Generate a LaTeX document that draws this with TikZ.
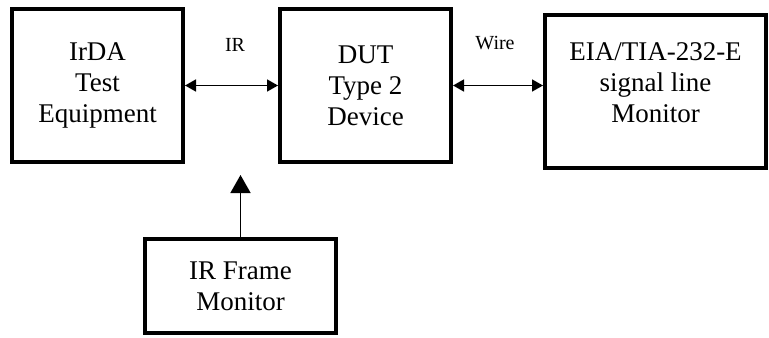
\documentclass[tikz,border=0pt]{standalone}
\usepackage{fontspec}
\setmainfont{Liberation Serif}
\usetikzlibrary{arrows.meta}
\begin{document}
\begin{tikzpicture}[x=0.5pt,y=-0.5pt,
  box/.style={draw,line width=2pt,align=center,font=\fontsize{13.5}{15.5}\selectfont},
  lbl/.style={font=\fontsize{10}{12}\selectfont},
  link/.style={line width=0.8pt,{Triangle[length=5.5pt,width=6pt]}-{Triangle[length=5.5pt,width=6pt]}},
  feed/.style={line width=0.8pt,-{Triangle[length=9pt,width=10pt]}}]
\useasboundingbox (0,0) rectangle (769,337);
\node[box,minimum width=85.5pt,minimum height=76.5pt] (equip) at (97.5,85.5) {IrDA\\Test\\Equipment};
\node[box,minimum width=85.5pt,minimum height=76.5pt] (dut) at (365.5,85.5) {DUT\\Type 2\\Device};
\node[box,minimum width=110.5pt,minimum height=76.5pt,text depth=8pt] (mon) at (655.5,91) {EIA/TIA-232-E\\signal line\\Monitor};
\node[box,minimum width=95.5pt,minimum height=47pt] (frame) at (240.5,286) {IR Frame\\Monitor};
\node[lbl] (ir) at (235,45) {IR};
\node[lbl] (wire) at (495,43) {Wire};
\coordinate (tip) at (240.5,175);
\draw[link] (equip.east) -- (dut.west);
\draw[link] (dut.east) -- (dut.east -| mon.west);
\draw[feed] (frame.north) -- (tip);
\end{tikzpicture}
\end{document}
